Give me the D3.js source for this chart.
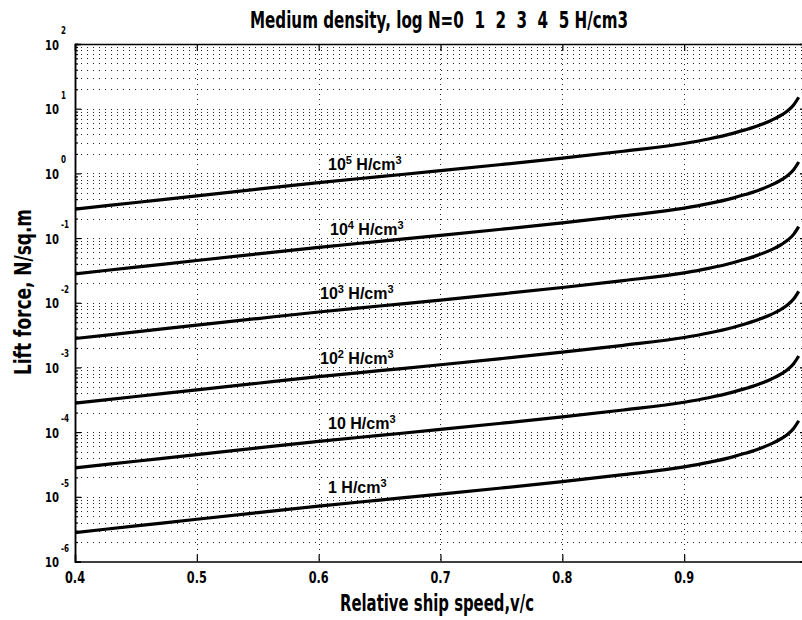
<!DOCTYPE html>
<html><head><meta charset="utf-8">
<script src="https://cdn.jsdelivr.net/npm/d3@7"></script>
<style>
html,body{margin:0;padding:0;background:#fff;}
svg{display:block;}
</style></head>
<body>
<svg id="chart" width="802" height="620"></svg>
<script>
// ---- data ----
const titleText = "Medium density, log N=0  1  2  3  4  5 H/cm3";
const xLabelText = "Relative ship speed,v/c";
const yLabelText = "Lift force, N/sq.m";
const xTicks = [0.4, 0.5, 0.6, 0.7, 0.8, 0.9];
const xTickLabels = ["0.4", "0.5", "0.6", "0.7", "0.8", "0.9"];
const yExponents = [-6, -5, -4, -3, -2, -1, 0, 1, 2];
const speed = [0.40, 0.45, 0.50, 0.55, 0.60, 0.65, 0.70, 0.75, 0.80, 0.85, 0.90, 0.92, 0.94, 0.95, 0.96, 0.97, 0.98, 0.985, 0.99, 0.994];
const force_1e5 = [0.28, 0.355, 0.45, 0.57, 0.72, 0.89, 1.10, 1.37, 1.72, 2.20, 2.90, 3.40, 4.15, 4.7, 5.4, 6.4, 8.0, 9.3, 11.5, 15.0];
const force_1e4 = [0.028, 0.0355, 0.045, 0.057, 0.072, 0.089, 0.110, 0.137, 0.172, 0.220, 0.290, 0.340, 0.415, 0.47, 0.54, 0.64, 0.80, 0.93, 1.15, 1.50];
const force_1e3 = [0.0028, 0.00355, 0.0045, 0.0057, 0.0072, 0.0089, 0.0110, 0.0137, 0.0172, 0.0220, 0.0290, 0.0340, 0.0415, 0.047, 0.054, 0.064, 0.080, 0.093, 0.115, 0.150];
const force_1e2 = [0.00028, 0.000355, 0.00045, 0.00057, 0.00072, 0.00089, 0.00110, 0.00137, 0.00172, 0.00220, 0.00290, 0.00340, 0.00415, 0.0047, 0.0054, 0.0064, 0.0080, 0.0093, 0.0115, 0.0150];
const force_1e1 = [0.000028, 0.0000355, 0.000045, 0.000057, 0.000072, 0.000089, 0.000110, 0.000137, 0.000172, 0.000220, 0.000290, 0.000340, 0.000415, 0.00047, 0.00054, 0.00064, 0.00080, 0.00093, 0.00115, 0.00150];
const force_1e0 = [0.0000028, 0.00000355, 0.0000045, 0.0000057, 0.0000072, 0.0000089, 0.0000110, 0.0000137, 0.0000172, 0.0000220, 0.0000290, 0.0000340, 0.0000415, 0.000047, 0.000054, 0.000064, 0.000080, 0.000093, 0.000115, 0.000150];
const densities = [1e5, 1e4, 1e3, 1e2, 1e1, 1e0];
const densityBase = ["10", "10", "10", "10", "10", "1"];
const densityExp = ["5", "4", "3", "2", "", ""];
const seriesList = [force_1e5, force_1e4, force_1e3, force_1e2, force_1e1, force_1e0];

// ---- layout ----
const L = 75, R = 806, T = 44, B = 561.5;
const svg = d3.select("#chart");
const x = d3.scaleLinear().domain([0.4, 1.0]).range([L, R]);
const y = d3.scaleLog().domain([1e-6, 1e2]).range([B, T]);
const font = "'DejaVu Sans',sans-serif";

svg.append("defs").append("clipPath").attr("id", "clip")
  .append("rect").attr("x", L).attr("y", T).attr("width", R - L).attr("height", B - T);

// grid lines
const minorVals = [];
for (let e = -6; e < 2; e++) for (let m = 1; m <= 9; m++) minorVals.push(m * Math.pow(10, e));
minorVals.push(100);
const grid = svg.append("g").attr("clip-path", "url(#clip)");
grid.selectAll("line.h").data(minorVals).join("line")
  .attr("x1", L).attr("x2", R)
  .attr("y1", d => Math.round(y(d)) + 0.5).attr("y2", d => Math.round(y(d)) + 0.5)
  .attr("stroke", "#222").attr("stroke-width", 1).attr("stroke-dasharray", "1,5");
grid.selectAll("line.v").data(xTicks.slice(1)).join("line")
  .attr("y1", T).attr("y2", B)
  .attr("x1", d => Math.round(x(d)) + 0.5).attr("x2", d => Math.round(x(d)) + 0.5)
  .attr("stroke", "#222").attr("stroke-width", 1).attr("stroke-dasharray", "1,4");

// axes with inward ticks
svg.append("g").attr("transform", `translate(0,${B})`).call(d3.axisBottom(x).tickValues(xTicks).tickSize(-7).tickFormat(""));
svg.append("g").attr("transform", `translate(0,${T})`).call(d3.axisTop(x).tickValues(xTicks).tickSize(-7).tickFormat(""));
const majors = yExponents.map(e => Math.pow(10, e));
const minorsOnly = minorVals.filter(v => !majors.some(m => Math.abs(Math.log10(v) - Math.log10(m)) < 1e-9));
svg.append("g").attr("transform", `translate(${L},0)`).call(d3.axisLeft(y).tickValues(majors).tickSize(-6).tickFormat(""));
svg.append("g").attr("transform", `translate(${L},0)`).call(d3.axisLeft(y).tickValues(minorsOnly).tickSize(-3).tickFormat(""));
svg.append("g").attr("transform", `translate(${R},0)`).call(d3.axisRight(y).tickValues(majors).tickSize(-6).tickFormat(""));
svg.append("g").attr("transform", `translate(${R},0)`).call(d3.axisRight(y).tickValues(minorsOnly).tickSize(-3).tickFormat(""));
svg.selectAll(".domain").attr("stroke", "#000").attr("stroke-width", 1.5);
svg.selectAll(".tick line").attr("stroke", "#000").attr("stroke-width", 1.2);

// x tick labels
svg.append("g").selectAll("text").data(xTicks).join("text")
  .attr("x", d => x(d)).attr("y", 583)
  .attr("text-anchor", "middle")
  .attr("font-family", font).attr("font-weight", "bold").attr("font-size", 15)
  .attr("textLength", 20).attr("lengthAdjust", "spacingAndGlyphs")
  .text((d, i) => xTickLabels[i]);

// y tick labels 10^e
const yl = svg.append("g");
yl.selectAll("text.b").data(yExponents).join("text")
  .attr("x", 59).attr("y", d => y(Math.pow(10, d)) + 5.5)
  .attr("text-anchor", "end")
  .attr("font-family", font).attr("font-weight", "bold").attr("font-size", 14)
  .attr("textLength", 14).attr("lengthAdjust", "spacingAndGlyphs")
  .text("10");
yl.selectAll("text.e").data(yExponents).join("text")
  .attr("x", 61).attr("y", d => y(Math.pow(10, d)) - 10)
  .attr("text-anchor", "start")
  .attr("font-family", font).attr("font-weight", "bold").attr("font-size", 10)
  .attr("textLength", d => d < 0 ? 8 : 5).attr("lengthAdjust", "spacingAndGlyphs")
  .text(d => String(d));

// curves
const line = d3.line().x((d, i) => x(speed[i])).y(d => y(d)).curve(d3.curveMonotoneX);
svg.append("g").attr("clip-path", "url(#clip)").selectAll("path").data(seriesList).join("path")
  .attr("d", d => line(d))
  .attr("fill", "none").attr("stroke", "#000").attr("stroke-width", 3.2);

// curve labels
const labelStartX = [328, 330, 320, 320, 328, 328];
densities.forEach((n, i) => {
  const t = svg.append("text")
    .attr("x", labelStartX[i]).attr("y", y(1.13 * n / 1e5))
    .attr("font-family", "'Liberation Sans',Arial,sans-serif")
    .attr("font-weight", "bold").attr("font-size", 16).attr("fill", "#000");
  t.append("tspan").text(densityBase[i]);
  if (densityExp[i]) t.append("tspan").attr("dy", -6).attr("font-size", 11).text(densityExp[i]);
  t.append("tspan").attr("dy", densityExp[i] ? 6 : 0).text(" H/cm");
  t.append("tspan").attr("dy", -6).attr("font-size", 11).text("3");
});

// title and axis labels
svg.append("text").attr("x", 439).attr("y", 28)
  .attr("text-anchor", "middle").style("white-space", "pre")
  .attr("font-family", font).attr("font-weight", "bold").attr("font-size", 23)
  .attr("textLength", 378).attr("lengthAdjust", "spacingAndGlyphs")
  .text(titleText);
svg.append("text").attr("x", 437).attr("y", 611)
  .attr("text-anchor", "middle")
  .attr("font-family", font).attr("font-weight", "bold").attr("font-size", 23)
  .attr("textLength", 194).attr("lengthAdjust", "spacingAndGlyphs")
  .text(xLabelText);
svg.append("text").attr("transform", "translate(31,292) rotate(-90)")
  .attr("text-anchor", "middle")
  .attr("font-family", font).attr("font-weight", "bold").attr("font-size", 23)
  .attr("textLength", 166).attr("lengthAdjust", "spacingAndGlyphs")
  .text(yLabelText);
</script>
</body></html>
